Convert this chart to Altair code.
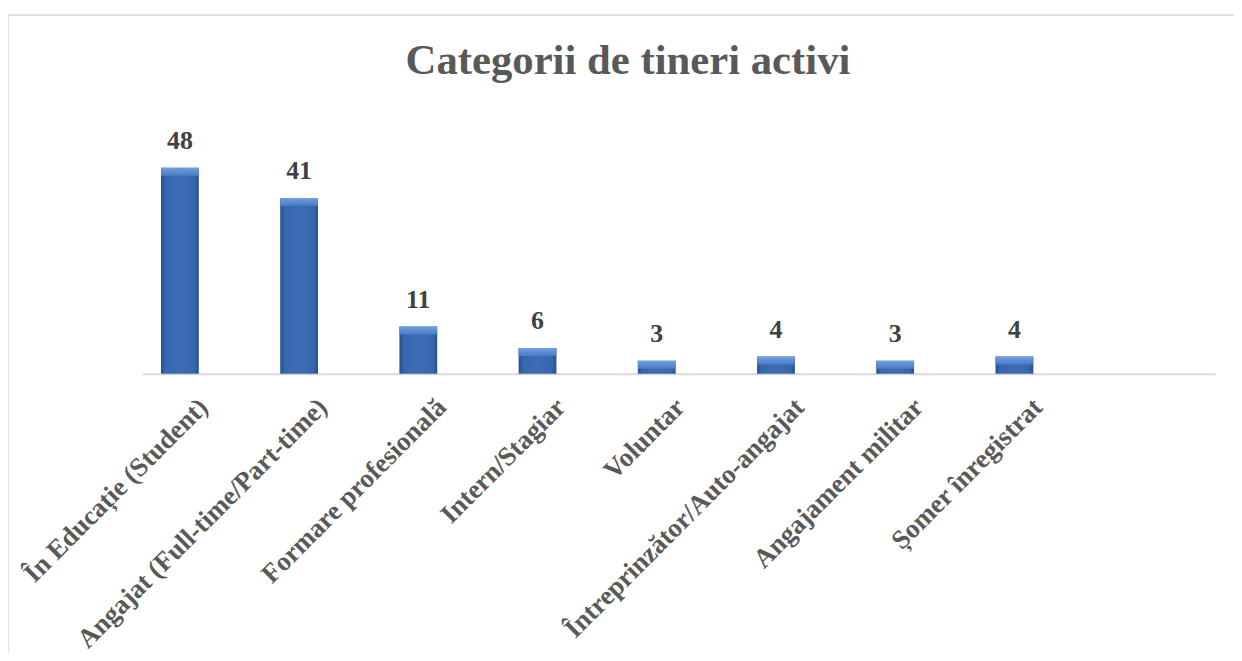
import altair as alt
import pandas as pd

categories = [
    "În Educație (Student)",
    "Angajat (Full-time/Part-time)",
    "Formare profesională",
    "Intern/Stagiar",
    "Voluntar",
    "Întreprinzător/Auto-angajat",
    "Angajament militar",
    "Șomer înregistrat",
]
values = [48, 41, 11, 6, 3, 4, 3, 4]

df = pd.DataFrame({"cat": categories, "val": values})
one = pd.DataFrame({"a": [0]})

W, H = 1080, 259
SERIF = "Liberation Serif"

x_enc = alt.X(
    "cat:N",
    sort=categories,
    scale=alt.Scale(paddingInner=0.683, paddingOuter=0.8417, align=0.094),
    axis=alt.Axis(
        title=None,
        labels=False,
        ticks=False,
        domainColor="#d9d9d9",
        domainWidth=2,
    ),
)
y_enc = alt.Y("val:Q", scale=alt.Scale(domain=[0, 60]), axis=None)

body_grad = alt.Gradient(
    gradient="linear", x1=0, x2=1, y1=0, y2=0,
    stops=[
        alt.GradientStop(offset=0, color="#264f8f"),
        alt.GradientStop(offset=0.12, color="#3767ae"),
        alt.GradientStop(offset=0.5, color="#3c6db5"),
        alt.GradientStop(offset=0.88, color="#3767ae"),
        alt.GradientStop(offset=1, color="#264f8f"),
    ],
)
bevel_grad = alt.Gradient(
    gradient="linear", x1=0, x2=0, y1=0, y2=1,
    stops=[
        alt.GradientStop(offset=0, color="#6f9fe0"),
        alt.GradientStop(offset=1, color="#4a7cc4"),
    ],
)

base = alt.Chart(df)

bars = base.mark_bar(color=body_grad).encode(x=x_enc, y=y_enc)
bevel = base.mark_bar(color=bevel_grad, y2Offset=8).encode(
    x=x_enc, y=y_enc, y2="val:Q"
)
labels = base.mark_text(
    dy=-19, baseline="alphabetic", font=SERIF, fontWeight="bold",
    fontSize=26, color="#404040",
).encode(x=x_enc, y=y_enc, text="val:Q")

cat_labels = base.mark_text(
    angle=315, align="right", baseline="middle", dx=-4, dy=38,
    font=SERIF, fontWeight="bold", fontSize=27, color="#595959",
).encode(x=x_enc, y=alt.value(H), text="cat:N")

frame_left = alt.Chart(one).mark_rule(color="#d9d9d9", strokeWidth=1.5).encode(
    x=alt.value(-135), y=alt.value(-102), y2=alt.value(540)
)
frame_top = alt.Chart(one).mark_rule(color="#d9d9d9", strokeWidth=1.5).encode(
    x=alt.value(-135), x2=alt.value(1120), y=alt.value(-102)
)

chart = (
    alt.layer(frame_left, frame_top, bars, bevel, labels, cat_labels)
    .properties(
        width=W,
        height=H,
        autosize="none",
        padding={"left": 135, "top": 107, "right": 19, "bottom": 279},
        title=alt.TitleParams(
            text="Categorii de tineri activi",
            font=SERIF,
            fontSize=43,
            fontWeight="bold",
            color="#595959",
            anchor="middle",
            dx=-51,
            baseline="alphabetic",
            offset=-103,
        ),
    )
    .configure_view(stroke=None)
)

chart.save("out.html", embed_options={"renderer": "svg", "actions": False})
